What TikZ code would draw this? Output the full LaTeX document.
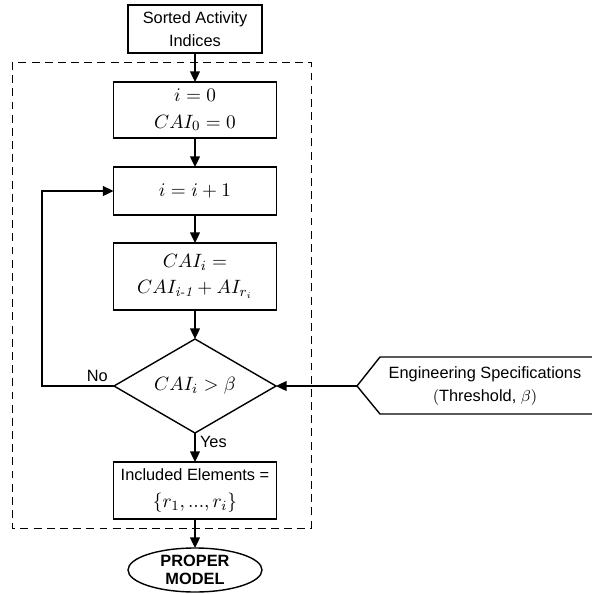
\documentclass[tikz,border=0pt]{standalone}
\usepackage{amsmath}
\usepackage{fontspec}
\setsansfont{Liberation Sans}
\usepackage{tikz}
\usetikzlibrary{calc,positioning,shapes.geometric,arrows.meta}

\begin{document}
\begin{tikzpicture}[
		box/.style={shape=rectangle,draw,line width=0.8pt,minimum width=3.26cm,inner sep=1pt,outer sep=0pt,align=center,font=\fontsize{11}{15}\selectfont},
		txt/.style={font=\sffamily\fontsize{9.3}{13}\selectfont},
		arr/.style={line width=1.1pt,-{Triangle[length=6pt,width=5.5pt]}}
	]
		\useasboundingbox (0,0) rectangle (11.82,-11.88);
		\node(sorted) at (3.9,-0.58) [box,txt,minimum width=2.68cm,minimum height=0.96cm] {Sorted Activity\\Indices};
		\node(init) [below=0.58 of sorted,box,minimum height=1.12cm] {$i=0$\\$CAI_0=0$};
		\node(incr) [below=0.58 of init,box,minimum height=0.96cm] {$i=i+1$};
		\node(cai) [below=0.56 of incr,box,minimum height=1.34cm] {$CAI_i=$\\$CAI_{\textit{i-1}}+AI_{r_i}$};
		\node(test) [below=0.58 of cai,shape=diamond,draw,line width=0.8pt,outer sep=0pt,aspect=1.72,minimum width=3.24cm,minimum height=1.88cm,inner sep=0pt,font=\fontsize{11}{13}\selectfont] {$CAI_i>\beta$};
		\node(incl) [below=0.58 of test,box,minimum height=1.14cm] {{\sffamily\fontsize{9.3}{13}\selectfont Included Elements =}\\$\{r_1,...,r_i\}$};
		\node(model) [below=0.58 of incl,shape=ellipse,draw,line width=0.8pt,outer sep=0pt,minimum width=2.68cm,minimum height=0.88cm,inner sep=0pt,align=center,font=\sffamily\bfseries\fontsize{9.3}{10.5}\selectfont] {PROPER\\MODEL};
		% threshold input
		\coordinate(spectip) at ($(test.east)+(1.62,0)$);
		\node(spec) at ($(spectip)+(2.56,0)$) [txt,align=center] {Engineering Specifications\\$($Threshold, $\beta)$};
		\draw [line width=0.8pt] ($(spectip)+(4.7,0.58)$) -- ($(spectip)+(0.46,0.58)$) -- (spectip) -- ($(spectip)+(0.46,-0.56)$) -- ($(spectip)+(4.7,-0.56)$);
		% dashed loop region
		\draw [dashed,dash pattern=on 4.5pt off 3pt,line width=0.5pt] (0.24,-1.24) rectangle (6.22,-10.56);
		\draw [arr] (sorted) -- (init);
		\draw [arr] (init) -- (incr);
		\draw [arr] (incr) -- (cai);
		\draw [arr] (cai) -- (test);
		\draw [arr] (test) -- (incl) node [pos=0.3,right=-1pt,txt] {Yes};
		\draw [arr] (incl) -- (model);
		\draw [arr] (spectip) -- (test.east);
		\draw [arr] (test.west) -- ++(-1.44,0) |- (incr.west);
		\node at (test.west) [above left=-1pt and 0pt,txt] {No};
	\end{tikzpicture}
\end{document}
